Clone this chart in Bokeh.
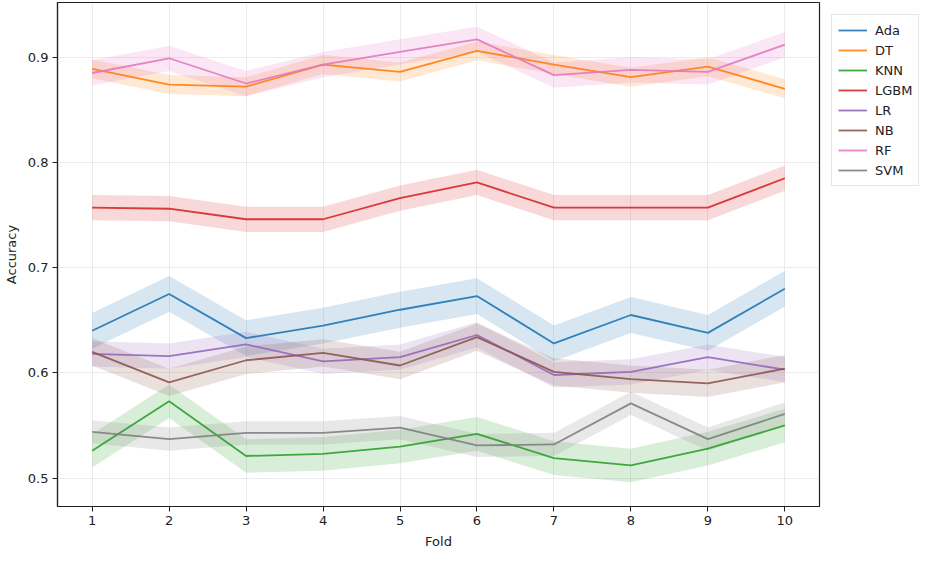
from bokeh.plotting import figure
from bokeh.models import Legend, LegendItem, FixedTicker, Range1d
from bokeh.embed import file_html
from bokeh.resources import INLINE

folds = [1, 2, 3, 4, 5, 6, 7, 8, 9, 10]
models = ["Ada", "DT", "KNN", "LGBM", "LR", "NB", "RF", "SVM"]
colors = ["#1f77b4", "#ff7f0e", "#2ca02c", "#d62728", "#9467bd", "#8c564b", "#e377c2", "#7f7f7f"]

acc_ada = [0.640, 0.675, 0.633, 0.645, 0.660, 0.673, 0.628, 0.655, 0.638, 0.680]
acc_dt = [0.889, 0.874, 0.872, 0.893, 0.886, 0.906, 0.893, 0.881, 0.891, 0.870]
acc_knn = [0.526, 0.573, 0.521, 0.523, 0.530, 0.542, 0.519, 0.512, 0.528, 0.550]
acc_lgbm = [0.757, 0.756, 0.746, 0.746, 0.766, 0.781, 0.757, 0.757, 0.757, 0.785]
acc_lr = [0.618, 0.616, 0.627, 0.611, 0.615, 0.636, 0.598, 0.601, 0.615, 0.603]
acc_nb = [0.620, 0.591, 0.612, 0.619, 0.607, 0.634, 0.601, 0.594, 0.590, 0.604]
acc_rf = [0.885, 0.899, 0.875, 0.893, 0.905, 0.917, 0.883, 0.888, 0.886, 0.912]
acc_svm = [0.544, 0.537, 0.543, 0.543, 0.548, 0.531, 0.532, 0.571, 0.537, 0.561]

# half-width of the shaded confidence band per model
band_halfwidth = [0.017, 0.009, 0.016, 0.012, 0.012, 0.013, 0.012, 0.011]

series = [acc_ada, acc_dt, acc_knn, acc_lgbm, acc_lr, acc_nb, acc_rf, acc_svm]

yticks = [0.5, 0.6, 0.7, 0.8, 0.9]

FONT = "DejaVu Sans"

p = figure(width=926, height=546, output_backend="svg", toolbar_location=None,
           x_range=Range1d(0.55, 10.45), y_range=Range1d(0.473, 0.952),
           min_border_top=2, min_border_left=2, min_border_bottom=2, min_border_right=2,
           frame_width=762, frame_height=504)
p.background_fill_color = "white"
p.border_fill_color = "white"
p.outline_line_color = "#222222"
p.outline_line_width = 1.2

items = []
for name, col, vals, hw in zip(models, colors, series, band_halfwidth):
    lo = [v - hw for v in vals]
    hi = [v + hw for v in vals]
    p.varea(x=folds, y1=lo, y2=hi, fill_color=col, fill_alpha=0.18)
for name, col, vals in zip(models, colors, series):
    r = p.line(folds, vals, line_color=col, line_width=1.8, line_alpha=0.9)
    items.append(LegendItem(label=name, renderers=[r]))

p.xaxis.ticker = FixedTicker(ticks=folds)
p.yaxis.ticker = FixedTicker(ticks=yticks)
p.xaxis.axis_label = "Fold"
p.yaxis.axis_label = "Accuracy"
for ax in (p.xaxis, p.yaxis):
    ax.axis_label_text_font = FONT
    ax.axis_label_text_font_style = "normal"
    ax.axis_label_text_font_size = "13px"
    ax.major_label_text_font = FONT
    ax.major_label_text_font_size = "13px"
    ax.major_label_text_color = "#222222"
    ax.axis_label_text_color = "#222222"
    ax.minor_tick_line_color = None
    ax.major_tick_in = 0
    ax.major_tick_out = 5
    ax.major_tick_line_color = "#222222"
    ax.axis_line_color = "#222222"
    ax.axis_line_width = 1.2
    ax.major_label_standoff = 4
    ax.axis_label_standoff = 6

p.grid.grid_line_color = "#b0b0b0"
p.grid.grid_line_alpha = 0.3
p.grid.grid_line_width = 0.8

legend = Legend(items=items, location="top_left")
legend.margin = 12
legend.padding = 6
legend.spacing = 2
legend.label_standoff = 8
legend.label_text_font = FONT
legend.label_text_font_size = "13px"
legend.label_text_color = "#222222"
legend.glyph_width = 29
legend.glyph_height = 18
legend.label_height = 18
legend.border_line_color = "#cccccc"
legend.border_line_width = 1
legend.background_fill_alpha = 1.0
p.add_layout(legend, "right")

open("out.html", "w").write(file_html(p, INLINE))
